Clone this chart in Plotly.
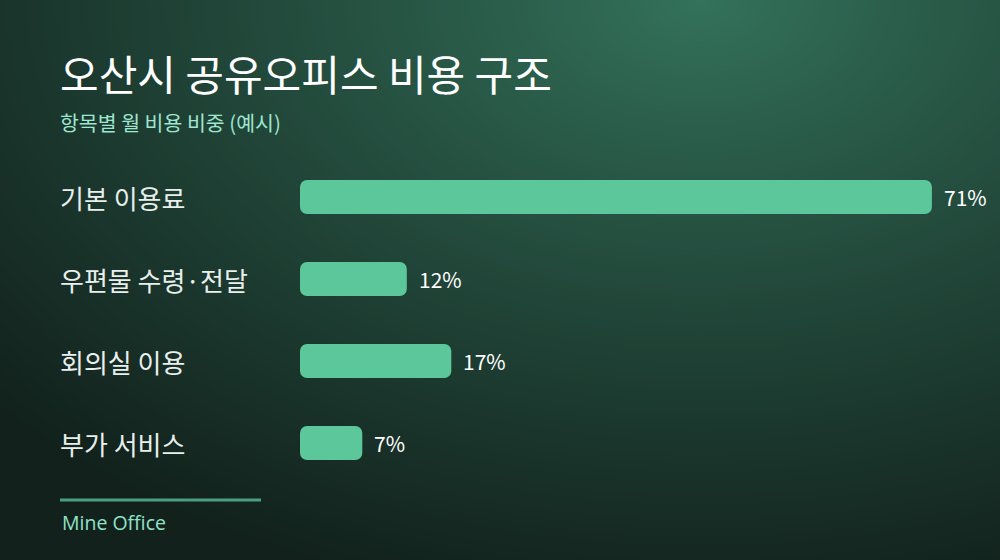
import base64
import struct
import zlib
import numpy as np
import plotly.graph_objects as go

# chart data
categories = ["기본 이용료", "우편물 수령·전달", "회의실 이용", "부가 서비스"]
shares = [71, 12, 17, 7]
value_labels = ["71%", "12%", "17%", "7%"]

title = "오산시 공유오피스 비용 구조"
subtitle = "항목별 월 비용 비중 (예시)"
source = "Mine Office"

W, H = 1000, 560
FONT = "Noto Sans CJK KR"
BAR = "#5bc79b"


def make_png(arr):
    h, w, _ = arr.shape
    raw = b"".join(b"\x00" + arr[i].tobytes() for i in range(h))

    def chunk(tag, data):
        c = struct.pack(">I", len(data)) + tag + data
        return c + struct.pack(">I", zlib.crc32(tag + data) & 0xffffffff)

    png = b"\x89PNG\r\n\x1a\n"
    png += chunk(b"IHDR", struct.pack(">IIBBBBB", w, h, 8, 2, 0, 0, 0))
    png += chunk(b"IDAT", zlib.compress(raw, 9))
    png += chunk(b"IEND", b"")
    return "data:image/png;base64," + base64.b64encode(png).decode()


# background glow (radial gradient), purely decorative
gw, gh = 500, 280
yy, xx = np.mgrid[0:gh, 0:gw]
px = xx * W / gw
py_ = yy * H / gh
t = np.sqrt(((px - 700) / 950) ** 2 + ((py_ - 0) / 620) ** 2)
t = np.clip(t, 0, 1) ** 0.9
c0 = np.array([0x34, 0x73, 0x5c])
c1 = np.array([0x12, 0x21, 0x1c])
img = (c0[None, None, :] * (1 - t[..., None]) + c1[None, None, :] * t[..., None]).astype(np.uint8)
bg_src = make_png(img)

px_per_unit = 8.9
x_left = 300
LX = 58 / W

# two overlapping pieces per bar so both ends get rounded corners
q1 = [v * 0.25 for v in shares]
q3 = [v * 0.75 for v in shares]

fig = go.Figure()
# piece from 0.25v to v, rounded at the value end
fig.add_trace(go.Bar(
    x=q3, base=q1, y=categories, orientation="h",
    marker=dict(color=BAR, line=dict(width=0)),
    hoverinfo="skip",
))
# piece from 0.75v back to zero, rounded at the zero end
fig.add_trace(go.Bar(
    x=[-q for q in q3], base=q3, y=categories, orientation="h",
    marker=dict(color=BAR, line=dict(width=0)),
    hoverinfo="skip",
))

annotations = []
for cat, val, lab in zip(categories, shares, value_labels):
    annotations.append(dict(
        x=LX, xref="paper", y=cat, yref="y",
        text=cat, showarrow=False, xanchor="left", yanchor="middle",
        font=dict(family=FONT, size=26, color="#e9efec"),
    ))
    annotations.append(dict(
        x=val, xref="x", y=cat, yref="y",
        text=lab, showarrow=False, xanchor="left", yanchor="middle", xshift=10,
        font=dict(family=FONT, size=21, color="#ffffff"),
    ))

annotations += [
    dict(x=LX, xref="paper", y=1 - 72 / H, yref="paper", text=title,
         showarrow=False, xanchor="left", yanchor="middle",
         font=dict(family=FONT, size=42, color="#ffffff")),
    dict(x=LX, xref="paper", y=1 - 122 / H, yref="paper", text=subtitle,
         showarrow=False, xanchor="left", yanchor="middle",
         font=dict(family=FONT, size=20.5, color="#9fe6d0")),
    dict(x=0.06, xref="paper", y=1 - 522 / H, yref="paper", text=source,
         showarrow=False, xanchor="left", yanchor="middle",
         font=dict(family="Open Sans", size=19.5, color="#8fe3c8")),
]

fig.update_layout(
    width=W, height=H,
    margin=dict(l=0, r=0, t=0, b=0),
    paper_bgcolor="#1a3029",
    plot_bgcolor="rgba(0,0,0,0)",
    showlegend=False,
    barmode="overlay",
    bargap=0.585,
    barcornerradius=7,
    xaxis=dict(domain=[x_left / W, 1], range=[0, (W - x_left) / px_per_unit],
               visible=False, fixedrange=True),
    yaxis=dict(domain=[1 - 484 / H, 1 - 156 / H], autorange="reversed",
               visible=False, fixedrange=True),
    annotations=annotations,
    shapes=[dict(type="line", xref="paper", yref="paper",
                 x0=0.06, x1=261 / W, y0=1 - 500 / H, y1=1 - 500 / H,
                 line=dict(color="#4c9e80", width=3))],
    images=[dict(source=bg_src, xref="paper", yref="paper", x=0, y=1,
                 sizex=1, sizey=1, sizing="stretch", layer="below",
                 xanchor="left", yanchor="top")],
)

fig.write_html("out.html", config=dict(displayModeBar=False),
               post_script="document.body.style.margin='0';")
